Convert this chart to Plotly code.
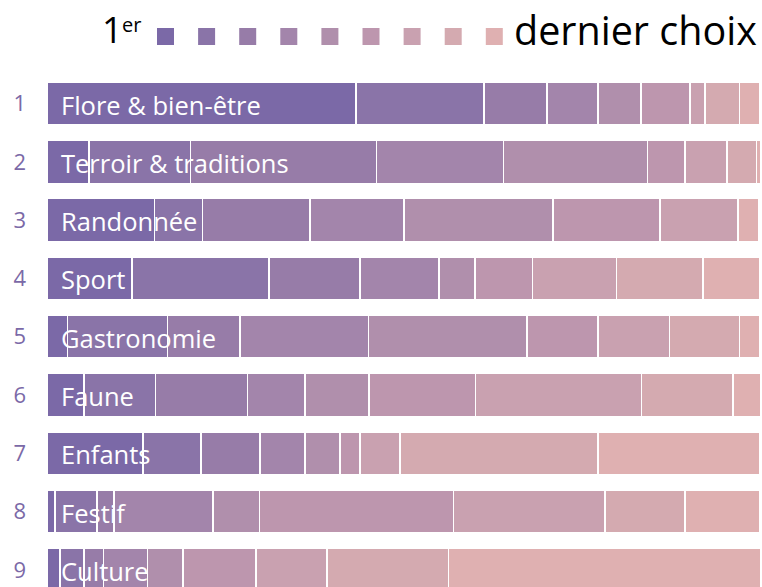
import plotly.graph_objects as go

# Themes in displayed order (rank position 1..9)
themes = ["Flore & bien-être", "Terroir & traditions", "Randonnée", "Sport",
          "Gastronomie", "Faune", "Enfants", "Festif", "Culture"]
positions = ["1", "2", "3", "4", "5", "6", "7", "8", "9"]

# Share (%) of respondents placing each theme at choice 1 .. 9
flore = [43.3, 18.0, 8.8, 7.2, 6.0, 6.9, 2.1, 4.8, 2.9]
terroir = [5.9, 14.2, 26.1, 17.8, 20.2, 5.3, 5.9, 4.1, 0.6]
randonnee = [15.1, 6.7, 15.1, 13.2, 20.9, 15.0, 10.9, 0.0, 2.9]
sport = [11.9, 19.2, 12.8, 11.1, 5.0, 8.1, 11.8, 12.1, 8.0]
gastronomie = [2.9, 14.0, 10.2, 18.0, 22.2, 10.0, 10.0, 9.8, 2.9]
faune = [5.2, 10.0, 12.9, 8.1, 9.0, 14.9, 23.3, 12.8, 3.9]
enfants = [13.5, 8.1, 8.3, 6.3, 4.9, 2.8, 5.6, 27.8, 22.7]
festif = [1.1, 5.9, 2.4, 13.9, 6.5, 27.2, 21.3, 11.2, 10.5]
culture = [1.8, 3.4, 2.7, 6.2, 5.0, 10.2, 10.0, 17.0, 43.8]

rows = [flore, terroir, randonnee, sport, gastronomie, faune, enfants, festif, culture]

colors = ["#7b69a7", "#8a74a8", "#977ca8", "#a385ab", "#b08fac",
          "#bd96ae", "#c9a1b0", "#d4aab0", "#dfb0b1"]

FONT = "Open Sans"
W, H = 762, 587
ML, MR, MT, MB = 47, 2, 70, 0
pw, ph = W - ML - MR, H - MT - MB

# row pixel centres: first at 103.5, spacing 58.3
row0, step = 103.5, 58.3
y_top = (MT - row0) / step
y_bot = (H - row0) / step

ypos = list(range(len(themes)))

fig = go.Figure()
for k in range(9):
    fig.add_trace(go.Bar(
        x=[r[k] for r in rows], y=ypos, orientation="h",
        marker=dict(color=colors[k], line=dict(color="white", width=1.6)),
        width=0.74, hoverinfo="skip", showlegend=False,
    ))

for i, t in enumerate(themes):
    fig.add_annotation(x=0, y=i, xref="x", yref="y", text=t, showarrow=False,
                       xanchor="left", yanchor="middle", xshift=12, yshift=-1,
                       font=dict(family=FONT, size=25.5, color="white"))

def px_x(p):
    return (p - ML) / pw

def px_y(p):
    return (H - MB - p) / ph

# Legend squares
for k in range(9):
    x0 = 157 + 41.1 * k
    fig.add_shape(type="rect", xref="paper", yref="paper",
                  x0=px_x(x0), x1=px_x(x0 + 17), y0=px_y(45), y1=px_y(28),
                  fillcolor=colors[k], line=dict(width=0))

fig.add_annotation(xref="paper", yref="paper", x=px_x(125), y=px_y(56),
                   text="1", showarrow=False, xanchor="right", yanchor="bottom",
                   font=dict(family=FONT, size=36, color="black"))
fig.add_annotation(xref="paper", yref="paper", x=px_x(120), y=px_y(40),
                   text="er", showarrow=False, xanchor="left", yanchor="bottom",
                   font=dict(family=FONT, size=20, color="black"))
fig.add_annotation(xref="paper", yref="paper", x=px_x(512), y=px_y(59),
                   text="dernier choix", showarrow=False, xanchor="left", yanchor="bottom",
                   font=dict(family=FONT, size=39.5, color="black"))

fig.update_layout(
    width=W, height=H, margin=dict(l=ML, r=MR, t=MT, b=MB, autoexpand=False),
    barmode="stack", bargap=0, plot_bgcolor="white", paper_bgcolor="white",
    xaxis=dict(range=[0, 100], visible=False, fixedrange=True, automargin=False),
    yaxis=dict(range=[y_bot, y_top], tickvals=ypos, ticktext=positions,
               showgrid=False, zeroline=False, showline=False, ticks="",
               automargin=False, ticklabelstandoff=20, fixedrange=True,
               tickfont=dict(family=FONT, size=22, color="#7b69a7")),
)

fig.write_html("out.html", config={"displayModeBar": False, "staticPlot": True},
               post_script="document.body.style.margin='0';document.body.style.overflow='hidden';")
